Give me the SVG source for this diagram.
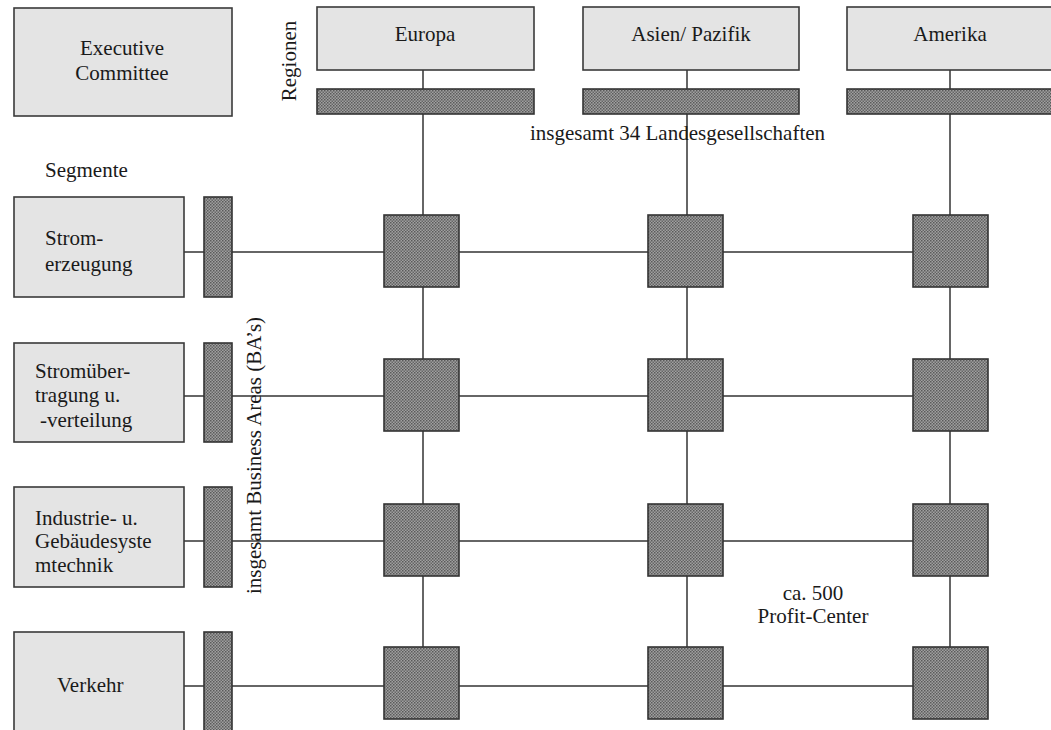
<svg xmlns="http://www.w3.org/2000/svg" width="1051" height="730" viewBox="0 0 1051 730">
  <defs>
    <!-- stippled dark fill used for the bars and profit-center squares -->
    <pattern id="stipple" width="3" height="3" patternUnits="userSpaceOnUse">
      <rect width="3" height="3" fill="#a0a0a0"/>
      <rect x="0" y="0" width="1.5" height="1.5" fill="#5a5a5a"/>
      <rect x="1.5" y="1.5" width="1.5" height="1.5" fill="#666666"/>
    </pattern>
  </defs>
  <style>
    .box { fill: #e4e4e4; stroke: #3a3a3a; stroke-width: 1.6; }
    .dark { fill: url(#stipple); stroke: #333; stroke-width: 1.6; }
    .line { stroke: #333; stroke-width: 1.5; fill: none; }
    text { font-family: "Liberation Serif", "Times New Roman", serif; font-size: 21px; fill: #1a1a1a; }
    .c { text-anchor: middle; }
  </style>
  <rect width="1051" height="730" fill="#ffffff"/>

  <!-- connectors: grid of region columns and segment rows -->
  <g id="connectors">
    <line class="line" x1="423" y1="70" x2="423" y2="647"/>
    <line class="line" x1="687" y1="70" x2="687" y2="647"/>
    <line class="line" x1="950" y1="70" x2="950" y2="647"/>
    <line class="line" x1="184" y1="252" x2="913" y2="252"/>
    <line class="line" x1="184" y1="396" x2="913" y2="396"/>
    <line class="line" x1="184" y1="541" x2="913" y2="541"/>
    <line class="line" x1="184" y1="686" x2="913" y2="686"/>
  </g>

  <g id="executive-committee">
    <rect class="box" x="14" y="8" width="218" height="108"/>
    <text class="c" x="122" y="55">Executive</text>
    <text class="c" x="122" y="80">Committee</text>
  </g>

  <g id="label-regionen">
    <text class="c" transform="translate(296 61) rotate(-90)">Regionen</text>
  </g>

  <g id="region-europa">
    <rect class="box" x="317" y="7" width="217" height="63"/>
    <text class="c" x="425" y="41">Europa</text>
    <rect class="dark" x="317" y="89" width="217" height="25"/>
  </g>
  <g id="region-asien">
    <rect class="box" x="583" y="7" width="216" height="63"/>
    <text class="c" x="691" y="41">Asien/ Pazifik</text>
    <rect class="dark" x="583" y="89" width="216" height="25"/>
  </g>
  <g id="region-amerika">
    <rect class="box" x="847" y="7" width="215" height="63"/>
    <text class="c" x="950" y="41">Amerika</text>
    <rect class="dark" x="847" y="89" width="215" height="25"/>
  </g>

  <g id="label-landesgesellschaften">
    <text x="530" y="140">insgesamt 34 Landesgesellschaften</text>
  </g>

  <g id="label-segmente">
    <text x="45" y="177">Segmente</text>
  </g>

  <g id="segment-stromerzeugung">
    <rect class="box" x="14" y="197" width="170" height="100"/>
    <text x="45" y="245">Strom-</text>
    <text x="45" y="271">erzeugung</text>
    <rect class="dark" x="204" y="197" width="28" height="100"/>
  </g>
  <g id="segment-stromuebertragung">
    <rect class="box" x="14" y="343" width="170" height="99"/>
    <text x="35" y="378">Stromüber-</text>
    <text x="35" y="402">tragung u.</text>
    <text x="40" y="427">-verteilung</text>
    <rect class="dark" x="204" y="343" width="28" height="99"/>
  </g>
  <g id="segment-industrie">
    <rect class="box" x="14" y="487" width="170" height="100"/>
    <text x="35" y="525">Industrie- u.</text>
    <text x="35" y="548">Gebäudesyste</text>
    <text x="35" y="572">mtechnik</text>
    <rect class="dark" x="204" y="487" width="28" height="100"/>
  </g>
  <g id="segment-verkehr">
    <rect class="box" x="14" y="632" width="170" height="110"/>
    <text x="57" y="692">Verkehr</text>
    <rect class="dark" x="204" y="632" width="28" height="110"/>
  </g>

  <g id="label-business-areas">
    <text transform="translate(261 594) rotate(-90)">insgesamt Business Areas (BA’s)</text>
  </g>

  <!-- profit-center squares at each crossing -->
  <g id="pc-row1">
    <rect class="dark" x="384" y="215" width="75" height="72"/>
    <rect class="dark" x="648" y="215" width="75" height="72"/>
    <rect class="dark" x="913" y="215" width="75" height="72"/>
  </g>
  <g id="pc-row2">
    <rect class="dark" x="384" y="359" width="75" height="72"/>
    <rect class="dark" x="648" y="359" width="75" height="72"/>
    <rect class="dark" x="913" y="359" width="75" height="72"/>
  </g>
  <g id="pc-row3">
    <rect class="dark" x="384" y="504" width="75" height="72"/>
    <rect class="dark" x="648" y="504" width="75" height="72"/>
    <rect class="dark" x="913" y="504" width="75" height="72"/>
  </g>
  <g id="pc-row4">
    <rect class="dark" x="384" y="647" width="75" height="72"/>
    <rect class="dark" x="648" y="647" width="75" height="72"/>
    <rect class="dark" x="913" y="647" width="75" height="72"/>
  </g>

  <g id="label-profit-center">
    <text class="c" x="813" y="600">ca. 500</text>
    <text class="c" x="813" y="623">Profit-Center</text>
  </g>
</svg>
